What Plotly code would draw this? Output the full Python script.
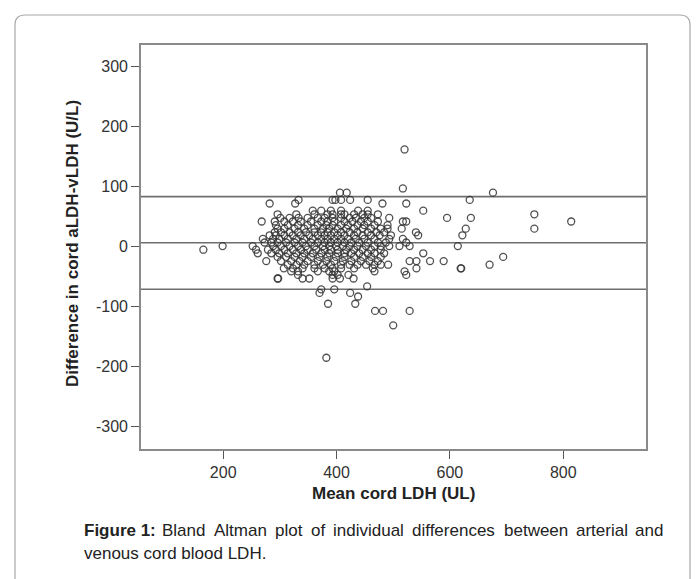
import plotly.graph_objects as go

# ---- data ----
# rows of points: each entry is (difference value, list of mean values)
row_diff = [161, 96, 89, 77, 71, 59, 53, 47, 41, 35, 29, 23, 18, 12, 6, 0, -6, -12,
            -18, -25, -31, -37, -42, -48, -54, -67, -72, -78, -84, -96, -108, -132, -186]
row_means = [
    [520],
    [517],
    [406, 418, 676],
    [333, 393, 398, 408, 424, 455, 635],
    [282, 327, 481, 523],
    [358, 373, 390, 408, 438, 455, 553],
    [296, 329, 361, 384, 393, 408, 414, 431, 446, 455, 473, 749],
    [301, 317, 333, 349, 367, 379, 393, 408, 423, 434, 449, 461, 493, 595, 637],
    [268, 291, 308, 323, 337, 355, 373, 384, 396, 414, 428, 443, 455, 473, 517, 523, 814],
    [293, 314, 332, 349, 367, 382, 393, 408, 420, 437, 449, 467, 490],
    [296, 308, 326, 343, 361, 376, 387, 402, 417, 431, 446, 461, 478, 490, 515, 628, 749],
    [291, 302, 317, 332, 346, 361, 373, 384, 396, 408, 423, 437, 455, 470, 484, 540],
    [282, 293, 308, 323, 337, 352, 367, 379, 390, 402, 414, 431, 446, 461, 476, 496, 544, 622],
    [270, 288, 299, 314, 329, 343, 358, 373, 384, 396, 408, 420, 434, 449, 467, 493, 517],
    [273, 285, 296, 311, 326, 340, 355, 367, 379, 390, 402, 414, 426, 440, 455, 473, 487, 523],
    [199, 252, 288, 302, 317, 332, 346, 361, 376, 387, 399, 411, 423, 437, 452, 467, 478, 493, 511, 529, 614],
    [165, 258, 279, 293, 308, 323, 337, 349, 364, 379, 390, 402, 417, 431, 446, 461, 478],
    [261, 285, 299, 314, 329, 343, 358, 373, 387, 402, 414, 426, 440, 455, 467, 484, 553],
    [296, 311, 326, 340, 355, 370, 384, 399, 414, 431, 446, 461, 478, 694],
    [276, 302, 320, 335, 349, 367, 382, 396, 411, 426, 443, 458, 473, 529, 541, 565, 589],
    [314, 329, 343, 361, 376, 390, 408, 423, 437, 452, 467, 478, 491, 670],
    [307, 323, 340, 361, 379, 393, 408, 431, 464, 541, 619, 620],
    [320, 332, 367, 387, 396, 467, 520],
    [332, 393, 402, 421, 523],
    [296, 297, 340, 352, 393, 406, 430],
    [454],
    [373, 396],
    [370, 424],
    [438],
    [385, 433],
    [468, 482, 529],
    [500],
    [382],
]

mean_diff = 5.5
upper_loa = 82.5
lower_loa = -72.0

x_tick_vals = [200, 400, 600, 800]
x_tick_text = ["200", "400", "600", "800"]
y_tick_vals = [-300, -200, -100, 0, 100, 200, 300]
y_tick_text = ["-300", "-200", "-100", "0", "100", "200", "300"]

x_title = "Mean cord LDH (UL)"
y_title = "Difference in cord aLDH-vLDH (U/L)"
caption_1_words = ["Figure 1:", "Bland", "Altman", "plot", "of", "individual",
                   "differences", "between", "arterial", "and"]
caption_2 = "venous cord blood LDH."

mean_ldh = []
diff_ldh = []
for d, xs in zip(row_diff, row_means):
    for v in xs:
        mean_ldh.append(v)
        diff_ldh.append(d)

# ---- layout geometry (pixels) ----
W, H = 697, 579
PL, PR, PT, PB = 141, 646, 45, 449
X_RANGE = [55, 946]
Y_RANGE = [-338, 335]


def px(xp):
    return (xp - PL) / (PR - PL)


def py(yp):
    return (PB - yp) / (PB - PT)


fig = go.Figure()
fig.add_trace(go.Scatter(
    x=mean_ldh, y=diff_ldh, mode="markers",
    marker=dict(symbol="circle-open", size=7, color="rgba(50,50,50,0.85)",
                line=dict(width=1.3, color="rgba(50,50,50,0.85)")),
    showlegend=False, hoverinfo="x+y",
))

for yv in [upper_loa, mean_diff, lower_loa]:
    fig.add_shape(type="line", xref="paper", yref="y", x0=0, x1=1, y0=yv, y1=yv,
                  line=dict(color="#6e6e6e", width=1.6), layer="below")

# outer rounded border
r = 10
x0b, x1b, y0b, y1b = 15, 690, 15, 620
path = (f"M {px(x0b)},{py(y0b + r)} Q {px(x0b)},{py(y0b)} {px(x0b + r)},{py(y0b)} "
        f"L {px(x1b - r)},{py(y0b)} Q {px(x1b)},{py(y0b)} {px(x1b)},{py(y0b + r)} "
        f"L {px(x1b)},{py(y1b)} M {px(x0b)},{py(y0b + r)} L {px(x0b)},{py(y1b)}")
fig.add_shape(type="path", xref="paper", yref="paper", path=path,
              line=dict(color="#a8a8a8", width=1.2))

font_main = "Liberation Sans, Arial, sans-serif"

fig.add_annotation(x=px(72), y=py(244), xref="paper", yref="paper", text=f"<b>{y_title}</b>",
                   textangle=-90, xanchor="center", yanchor="middle", showarrow=False,
                   font=dict(family=font_main, size=17, color="#222"))
fig.add_annotation(x=px(393), y=py(493), xref="paper", yref="paper", text=f"<b>{x_title}</b>",
                   xanchor="center", yanchor="middle", showarrow=False,
                   font=dict(family=font_main, size=17, color="#222"))

# justified caption line 1: estimate word widths (Arial metrics) and spread the gaps
CAP_SIZE = 17
w_reg = {'a': 556, 'b': 556, 'c': 500, 'd': 556, 'e': 556, 'f': 278, 'g': 556, 'h': 556,
         'i': 222, 'l': 222, 'm': 833, 'n': 556, 'o': 556, 'p': 556, 'r': 333, 's': 500,
         't': 278, 'u': 556, 'v': 500, 'w': 722, 'A': 667, 'B': 667}
w_bold = {'F': 611, 'i': 278, 'g': 611, 'u': 611, 'r': 389, 'e': 556, ' ': 278, '1': 556, ':': 333}


def word_width(w, bold=False):
    table = w_bold if bold else w_reg
    return sum(table.get(c, 556) for c in w) * CAP_SIZE / 1000.0


line_left, line_right = 82, 665
widths = [word_width(w, bold=(i == 0)) for i, w in enumerate(caption_1_words)]
gap = (line_right - line_left - sum(widths)) / (len(caption_1_words) - 1)
xpos = line_left
for i, (wd, wt) in enumerate(zip(caption_1_words, widths)):
    txt = f"<b>{wd}</b>" if i == 0 else wd
    if i == 0:
        anchor, xa = "left", xpos
    elif i == len(caption_1_words) - 1:
        anchor, xa = "right", line_right
    else:
        anchor, xa = "center", xpos + wt / 2
    fig.add_annotation(x=px(xa), y=py(530), xref="paper", yref="paper", text=txt,
                       xanchor=anchor, yanchor="middle", showarrow=False,
                       font=dict(family=font_main, size=CAP_SIZE, color="#222"))
    xpos += wt + gap

fig.add_annotation(x=px(82), y=py(553), xref="paper", yref="paper", text=caption_2,
                   xanchor="left", yanchor="middle", showarrow=False,
                   font=dict(family=font_main, size=CAP_SIZE, color="#222"))

axis_common = dict(showgrid=False, zeroline=False, showline=True, mirror=True,
                   linecolor="#8a8a8a", linewidth=1.6, ticks="outside", ticklen=8,
                   tickcolor="#555", tickwidth=1.2,
                   tickfont=dict(family=font_main, size=16, color="#333"))

fig.update_layout(
    width=W, height=H,
    margin=dict(l=PL, r=W - PR, t=PT, b=H - PB),
    paper_bgcolor="white", plot_bgcolor="white",
    xaxis=dict(range=X_RANGE, tickvals=x_tick_vals, ticktext=x_tick_text, **axis_common),
    yaxis=dict(range=Y_RANGE, tickvals=y_tick_vals, ticktext=y_tick_text, **axis_common),
)

fig.write_html("out.html", config={"displayModeBar": False},
               post_script="document.body.style.margin='0';")
